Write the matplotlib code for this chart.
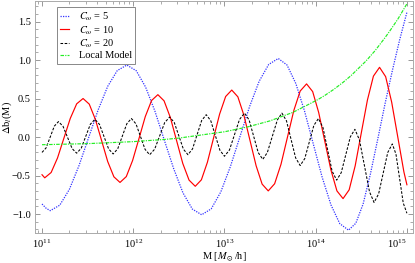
import numpy as np
import matplotlib
matplotlib.use("Agg")
import matplotlib.pyplot as plt
from matplotlib.ticker import AutoMinorLocator, LogLocator, NullFormatter

# values, x given as log10(M)
logm_blue = [11.0, 11.045, 11.09, 11.195, 11.30, 11.405, 11.51, 11.615, 11.72, 11.825,
             11.93, 12.033, 12.135, 12.238, 12.34, 12.443, 12.545, 12.648,
             12.75, 12.855, 12.96, 13.065, 13.17, 13.275, 13.38, 13.485,
             13.59, 13.686, 13.783, 13.879, 13.975, 14.071, 14.168, 14.264,
             14.36, 14.44, 14.52, 14.60, 14.68, 14.76, 14.84, 14.92, 15.0]
db_blue = [-0.87, -0.925, -0.957, -0.885, -0.68, -0.373, -0.011, 0.351, 0.658, 0.863,
           0.935, 0.861, 0.65, 0.335, -0.038, -0.41, -0.725, -0.936,
           -1.01, -0.933, -0.713, -0.384, 0.005, 0.394, 0.723, 0.943,
           1.02, 0.935, 0.693, 0.332, -0.095, -0.522, -0.883, -1.125,
           -1.21, -1.12, -0.87, -0.48, -0.03, 0.43, 0.86, 1.26, 1.62]

logm_red = [11.0, 11.03, 11.10, 11.17, 11.24, 11.31, 11.38,
            11.45, 11.518, 11.585, 11.653, 11.72, 11.788,
            11.855, 11.924, 11.993, 12.063, 12.132, 12.201,
            12.27, 12.338, 12.407, 12.475, 12.543, 12.612,
            12.68, 12.747, 12.813, 12.88, 12.947, 13.013,
            13.08, 13.147, 13.213, 13.28, 13.347, 13.413,
            13.48, 13.55, 13.62, 13.69, 13.76, 13.83,
            13.90, 13.967, 14.033, 14.10, 14.167, 14.233,
            14.30, 14.367, 14.433, 14.50, 14.567, 14.633,
            14.70, 14.767, 14.833, 14.90, 14.967, 15.0]
db_red = [-0.49, -0.53, -0.461, -0.272, -0.015, 0.242, 0.431,
          0.50, 0.427, 0.228, -0.045, -0.318, -0.517,
          -0.59, -0.514, -0.305, -0.02, 0.265, 0.474,
          0.55, 0.47, 0.253, -0.045, -0.343, -0.56,
          -0.64, -0.556, -0.328, -0.015, 0.298, 0.526,
          0.61, 0.522, 0.283, -0.045, -0.373, -0.612,
          -0.70, -0.607, -0.353, -0.005, 0.343, 0.597,
          0.69, 0.59, 0.318, -0.055, -0.428, -0.70,
          -0.80, -0.686, -0.374, 0.053, 0.479, 0.791,
          0.905, 0.784, 0.453, 0.0, -0.453, -0.62]

logm_black = [11.0, 11.045, 11.09, 11.135, 11.18, 11.23, 11.28, 11.33,
              11.38, 11.43, 11.48, 11.53, 11.58, 11.63, 11.68, 11.73,
              11.78, 11.83, 11.88, 11.93, 11.98, 12.03, 12.08, 12.13,
              12.18, 12.235, 12.29, 12.345, 12.40, 12.45, 12.50, 12.55,
              12.60, 12.65, 12.70, 12.75, 12.80, 12.85, 12.90, 12.95,
              13.0, 13.055, 13.11, 13.165, 13.22, 13.27, 13.32, 13.37,
              13.42, 13.47, 13.525, 13.58, 13.63, 13.68, 13.73, 13.78,
              13.83, 13.88, 13.93, 13.98, 14.03, 14.08, 14.13, 14.18,
              14.23, 14.28, 14.33, 14.38, 14.43, 14.48, 14.535, 14.59,
              14.64, 14.69, 14.74, 14.79, 14.84, 14.88, 14.92, 14.96, 15.0]
db_black = [-0.20, -0.141, 0.0, 0.141, 0.20, 0.14, -0.005, -0.15,
            -0.21, -0.146, 0.01, 0.166, 0.23, 0.164, 0.005, -0.154,
            -0.22, -0.153, 0.01, 0.173, 0.24, 0.171, 0.005, -0.161,
            -0.23, -0.158, 0.015, 0.188, 0.26, 0.188, 0.015, -0.158,
            -0.23, -0.154, 0.03, 0.214, 0.29, 0.211, 0.02, -0.171,
            -0.25, -0.168, 0.03, 0.228, 0.31, 0.222, 0.01, -0.202,
            -0.29, -0.202, 0.01, 0.222, 0.31, 0.21, -0.03, -0.27,
            -0.37, -0.281, -0.065, 0.151, 0.24, 0.123, -0.16, -0.443,
            -0.56, -0.463, -0.23, 0.003, 0.10, -0.039, -0.375, -0.711,
            -0.85, -0.739, -0.47, -0.201, -0.09, -0.222, -0.54, -0.858, -0.99]

logm_green = [11.0, 11.5, 12.0, 12.35, 12.5, 13.0, 13.25, 13.5, 13.75, 13.9,
              14.03, 14.1, 14.2, 14.3, 14.39, 14.45, 14.55, 14.65, 14.76,
              14.82, 14.9, 15.0]
db_green = [-0.10, -0.086, -0.06, -0.031, -0.014, 0.068, 0.13, 0.21, 0.32, 0.41,
            0.49, 0.54, 0.62, 0.71, 0.80, 0.87, 0.985, 1.12, 1.29,
            1.39, 1.53, 1.73]

labels = [r"$C_\omega$ = 5", r"$C_\omega$ = 10", r"$C_\omega$ = 20", "Local Model"]

plt.rcParams["font.family"] = "Liberation Serif"
plt.rcParams["mathtext.fontset"] = "stix"
plt.rcParams["font.size"] = 7.5

fig = plt.figure(figsize=(4.15, 2.63), dpi=100)
ax = fig.add_axes([0.0843, 0.114, 0.9107, 0.882])

ax.plot(np.power(10.0, logm_blue), db_blue, color="#3333ff", ls=(0, (1, 1)), lw=0.9,
        solid_joinstyle="round", label=labels[0])
ax.plot(np.power(10.0, logm_red), db_red, color="#ff0000", ls="-", lw=0.85,
        solid_joinstyle="round", label=labels[1])
ax.plot(np.power(10.0, logm_black), db_black, color="black", ls=(0, (2.5, 1.5)), lw=0.75,
        label=labels[2])
ax.plot(np.power(10.0, logm_green), db_green, color="#22ee22", ls=(0, (3, 1, 1, 1)), lw=0.85,
        label=labels[3])

ax.set_xscale("log")
ax.set_xlim(10 ** 10.923, 10 ** 15.066)
ax.set_ylim(-1.247, 1.766)
ax.set_xticks([1e11, 1e12, 1e13, 1e14, 1e15])
ax.xaxis.set_minor_locator(LogLocator(base=10, subs=np.arange(2, 10)))
ax.xaxis.set_minor_formatter(NullFormatter())
ax.set_yticks([-1.0, -0.5, 0.0, 0.5, 1.0, 1.5])
ax.yaxis.set_minor_locator(AutoMinorLocator(5))
ax.tick_params(which="both", direction="in", top=True, right=True, colors="#888888",
               labelcolor="black", labelsize=7.5, pad=3)
ax.tick_params(which="major", length=3.5, width=0.6)
ax.tick_params(which="minor", length=2, width=0.5)
for s in ax.spines.values():
    s.set_color("#aaaaaa")
    s.set_linewidth(0.7)
# keep the last decade label inside the picture
ax.get_xticklabels()[-1].set_horizontalalignment("right")
ax.get_xticklabels()[-1].set_x(1e15)

ax.set_xlabel(r"M [$M_\odot$/h]", fontsize=7.5, labelpad=1)
ax.set_ylabel(r"$\Delta$b$_l$(M)", fontsize=7.5)
ax.yaxis.set_label_coords(-0.055, 0.5)

leg = ax.legend(loc="upper left", bbox_to_anchor=(0.045, 0.995), fontsize=7.5,
                handlelength=0.8, handletextpad=1.0, borderpad=0.3, labelspacing=0.1,
                fancybox=False, framealpha=1, edgecolor="#888888")
leg.get_frame().set_linewidth(0.7)

fig.savefig("out.png", dpi=100)
